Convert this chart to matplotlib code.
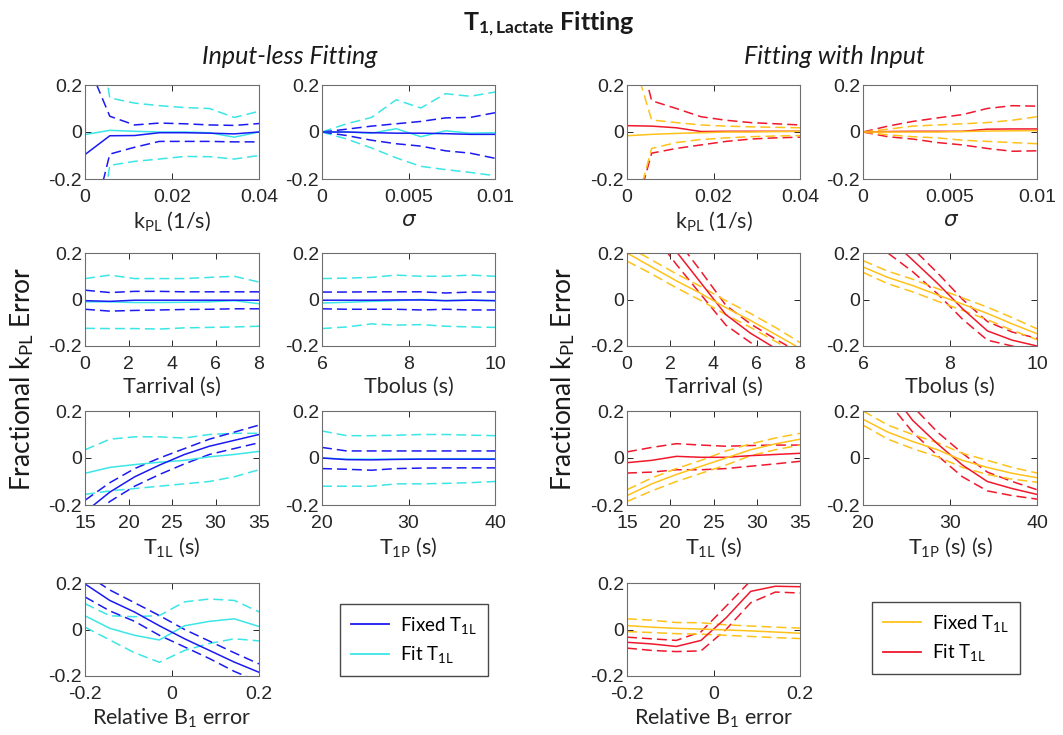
import matplotlib
matplotlib.use("Agg")
import matplotlib.pyplot as plt
from matplotlib.lines import Line2D

plt.rcParams['font.family'] = ['Lato', 'DejaVu Sans']
plt.rcParams['mathtext.fontset'] = 'custom'
plt.rcParams['mathtext.rm'] = 'Lato'
plt.rcParams['mathtext.it'] = 'Lato:italic'
plt.rcParams['mathtext.bf'] = 'Lato:bold'

# ---- x grids (8 simulated values per parameter) ----
kpl_x = [0, 0.0057, 0.0114, 0.0171, 0.0229, 0.0286, 0.0343, 0.04]
sig_x = [0, 0.00143, 0.00286, 0.00429, 0.00571, 0.00714, 0.00857, 0.01]
tarr_x = [0, 1.14, 2.29, 3.43, 4.57, 5.71, 6.86, 8]
tbol_x = [6, 6.57, 7.14, 7.71, 8.29, 8.86, 9.43, 10]
t1l_x = [15, 17.86, 20.71, 23.57, 26.43, 29.29, 32.14, 35]
t1p_x = [20, 22.86, 25.71, 28.57, 31.43, 34.29, 37.14, 40]
b1_x = [-0.2, -0.143, -0.086, -0.029, 0.029, 0.086, 0.143, 0.2]

# ---- input-less fitting: fixed T1L (mean, +std, -std), fit T1L ----
il_kpl_fix = [-0.096, -0.016, -0.015, -0.003, -0.003, -0.005, -0.008, 0.0]
il_kpl_fix_hi = [0.32, 0.067, 0.03, 0.038, 0.035, 0.03, 0.028, 0.036]
il_kpl_fix_lo = [-0.52, -0.094, -0.065, -0.04, -0.04, -0.04, -0.042, -0.042]
il_kpl_fit = [-0.011, 0.007, 0.003, 0.0, 0.0, -0.003, -0.022, 0.0]
il_kpl_fit_hi = [0.8, 0.145, 0.123, 0.112, 0.104, 0.1, 0.062, 0.088]
il_kpl_fit_lo = [-0.82, -0.142, -0.125, -0.115, -0.104, -0.105, -0.115, -0.1]

il_sig_fix = [0, 0, -0.003, -0.005, -0.005, -0.007, -0.01, -0.01]
il_sig_fix_hi = [0, 0.012, 0.025, 0.035, 0.045, 0.06, 0.062, 0.082]
il_sig_fix_lo = [0, -0.015, -0.035, -0.05, -0.06, -0.08, -0.09, -0.112]
il_sig_fit = [0, 0.0, -0.005, 0.014, -0.02, 0.005, -0.005, -0.003]
il_sig_fit_hi = [0, 0.035, 0.062, 0.137, 0.102, 0.163, 0.152, 0.17]
il_sig_fit_lo = [0, -0.03, -0.068, -0.11, -0.146, -0.16, -0.172, -0.186]

il_tarr_fix = [-0.005, -0.008, -0.003, -0.003, -0.003, -0.003, -0.003, -0.003]
il_tarr_fix_hi = [0.04, 0.03, 0.035, 0.035, 0.033, 0.033, 0.033, 0.033]
il_tarr_fix_lo = [-0.042, -0.05, -0.047, -0.045, -0.043, -0.042, -0.04, -0.04]
il_tarr_fit = [-0.01, -0.01, -0.013, -0.013, -0.012, -0.01, -0.005, -0.018]
il_tarr_fit_hi = [0.09, 0.105, 0.09, 0.09, 0.09, 0.095, 0.1, 0.075]
il_tarr_fit_lo = [-0.124, -0.125, -0.125, -0.127, -0.122, -0.12, -0.118, -0.115]

il_tbol_fix = [-0.003, -0.003, -0.003, -0.002, -0.002, -0.005, -0.003, -0.005]
il_tbol_fix_hi = [0.032, 0.032, 0.033, 0.033, 0.033, 0.028, 0.032, 0.032]
il_tbol_fix_lo = [-0.04, -0.042, -0.042, -0.042, -0.045, -0.042, -0.045, -0.045]
il_tbol_fit = [-0.015, -0.012, -0.008, -0.005, 0.0, -0.005, -0.003, -0.005]
il_tbol_fit_hi = [0.09, 0.092, 0.095, 0.105, 0.1, 0.1, 0.105, 0.1]
il_tbol_fit_lo = [-0.125, -0.118, -0.105, -0.11, -0.108, -0.115, -0.118, -0.12]

il_t1l_fix = [-0.23, -0.145, -0.08, -0.03, 0.015, 0.05, 0.075, 0.1]
il_t1l_fix_hi = [-0.18, -0.105, -0.045, 0.0, 0.04, 0.08, 0.11, 0.14]
il_t1l_fix_lo = [-0.27, -0.185, -0.12, -0.07, -0.025, 0.015, 0.04, 0.065]
il_t1l_fit = [-0.065, -0.04, -0.028, -0.018, -0.01, 0.005, 0.015, 0.028]
il_t1l_fit_hi = [0.035, 0.08, 0.09, 0.09, 0.085, 0.1, 0.105, 0.105]
il_t1l_fit_lo = [-0.155, -0.14, -0.13, -0.12, -0.11, -0.1, -0.08, -0.05]

il_t1p_fix = [0.0, -0.007, -0.008, -0.006, -0.005, -0.005, -0.005, -0.005]
il_t1p_fix_hi = [0.045, 0.03, 0.03, 0.03, 0.03, 0.03, 0.03, 0.03]
il_t1p_fix_lo = [-0.045, -0.048, -0.052, -0.045, -0.043, -0.042, -0.042, -0.042]
il_t1p_fit = [0.0, -0.005, -0.005, -0.005, -0.004, -0.003, -0.003, -0.003]
il_t1p_fit_hi = [0.115, 0.095, 0.095, 0.097, 0.1, 0.1, 0.097, 0.095]
il_t1p_fit_lo = [-0.12, -0.12, -0.12, -0.11, -0.11, -0.108, -0.105, -0.1]

il_b1_fix = [0.196, 0.125, 0.075, 0.016, -0.04, -0.09, -0.14, -0.184]
il_b1_fix_hi = [0.24, 0.17, 0.115, 0.06, 0.0, -0.05, -0.1, -0.148]
il_b1_fix_lo = [0.14, 0.08, 0.035, -0.025, -0.075, -0.125, -0.18, -0.225]
il_b1_fit = [0.059, 0.005, -0.025, -0.045, 0.016, 0.035, 0.046, 0.013]
il_b1_fit_hi = [0.111, 0.059, 0.055, 0.06, 0.119, 0.131, 0.125, 0.076]
il_b1_fit_lo = [0.01, -0.045, -0.1, -0.141, -0.09, -0.06, -0.04, -0.049]

# ---- fitting with input ----
wi_kpl_fix = [-0.016, -0.01, -0.006, -0.003, 0.0, 0.0, 0.002, 0.003]
wi_kpl_fix_hi = [0.4, 0.051, 0.04, 0.03, 0.025, 0.022, 0.02, 0.018]
wi_kpl_fix_lo = [-0.46, -0.07, -0.045, -0.032, -0.025, -0.02, -0.017, -0.015]
wi_kpl_fit = [0.027, 0.025, 0.018, 0.002, 0.003, 0.003, 0.003, 0.003]
wi_kpl_fit_hi = [0.55, 0.133, 0.1, 0.065, 0.05, 0.04, 0.035, 0.03]
wi_kpl_fit_lo = [-0.47, -0.09, -0.07, -0.055, -0.04, -0.03, -0.025, -0.022]

wi_sig_fix = [0, 0, 0, 0, 0.002, 0.004, 0.005, 0.006]
wi_sig_fix_hi = [0, 0.012, 0.025, 0.03, 0.035, 0.04, 0.05, 0.065]
wi_sig_fix_lo = [0, -0.012, -0.02, -0.025, -0.035, -0.04, -0.045, -0.05]
wi_sig_fit = [0, 0.002, 0.003, 0.003, 0.003, 0.012, 0.013, 0.013]
wi_sig_fit_hi = [0, 0.025, 0.045, 0.06, 0.074, 0.1, 0.112, 0.11]
wi_sig_fit_lo = [0, -0.02, -0.03, -0.045, -0.055, -0.07, -0.082, -0.08]

wi_tarr_fix = [0.2, 0.14, 0.08, 0.025, -0.035, -0.09, -0.15, -0.21]
wi_tarr_fix_hi = [0.23, 0.17, 0.11, 0.055, -0.005, -0.06, -0.12, -0.185]
wi_tarr_fix_lo = [0.165, 0.11, 0.05, -0.005, -0.065, -0.12, -0.18, -0.24]
wi_tarr_fit = [0.47, 0.34, 0.205, 0.07, -0.065, -0.145, -0.21, -0.27]
wi_tarr_fit_hi = [0.52, 0.39, 0.26, 0.12, -0.025, -0.105, -0.17, -0.23]
wi_tarr_fit_lo = [0.42, 0.29, 0.15, 0.02, -0.11, -0.185, -0.25, -0.31]

wi_tbol_fix = [0.14, 0.095, 0.06, 0.02, -0.02, -0.06, -0.105, -0.147]
wi_tbol_fix_hi = [0.167, 0.122, 0.087, 0.047, 0.007, -0.033, -0.078, -0.126]
wi_tbol_fix_lo = [0.117, 0.068, 0.033, -0.007, -0.047, -0.087, -0.132, -0.173]
wi_tbol_fit = [0.34, 0.27, 0.17, 0.07, -0.04, -0.135, -0.175, -0.2]
wi_tbol_fit_hi = [0.42, 0.34, 0.22, 0.115, 0.0, -0.095, -0.14, -0.167]
wi_tbol_fit_lo = [0.27, 0.2, 0.12, 0.025, -0.085, -0.175, -0.2, -0.23]

wi_t1l_fix = [-0.16, -0.11, -0.07, -0.035, 0.0, 0.035, 0.06, 0.08]
wi_t1l_fix_hi = [-0.135, -0.085, -0.045, -0.01, 0.03, 0.06, 0.085, 0.105]
wi_t1l_fix_lo = [-0.185, -0.14, -0.1, -0.065, -0.03, 0.01, 0.035, 0.055]
wi_t1l_fit = [-0.02, -0.01, 0.007, 0.003, 0.003, 0.01, 0.015, 0.02]
wi_t1l_fit_hi = [0.026, 0.045, 0.061, 0.055, 0.05, 0.053, 0.055, 0.055]
wi_t1l_fit_lo = [-0.064, -0.06, -0.05, -0.05, -0.045, -0.035, -0.025, -0.014]

wi_t1p_fix = [0.165, 0.11, 0.07, 0.035, -0.01, -0.04, -0.065, -0.084]
wi_t1p_fix_hi = [0.2, 0.14, 0.1, 0.065, 0.02, -0.01, -0.04, -0.064]
wi_t1p_fix_lo = [0.14, 0.08, 0.04, 0.005, -0.04, -0.07, -0.09, -0.103]
wi_t1p_fit = [0.45, 0.3, 0.16, 0.06, -0.03, -0.1, -0.13, -0.155]
wi_t1p_fit_hi = [0.5, 0.36, 0.22, 0.11, 0.02, -0.06, -0.1, -0.135]
wi_t1p_fit_lo = [0.4, 0.24, 0.11, 0.01, -0.08, -0.14, -0.16, -0.175]

wi_b1_fix = [0.017, 0.01, 0.005, 0.002, -0.002, -0.006, -0.011, -0.016]
wi_b1_fix_hi = [0.046, 0.04, 0.03, 0.029, 0.02, 0.015, 0.01, 0.006]
wi_b1_fix_lo = [-0.009, -0.013, -0.018, -0.02, -0.025, -0.03, -0.035, -0.039]
wi_b1_fit = [-0.055, -0.062, -0.073, -0.047, 0.05, 0.164, 0.186, 0.184]
wi_b1_fit_hi = [-0.033, -0.04, -0.047, -0.01, 0.1, 0.21, 0.22, 0.22]
wi_b1_fit_lo = [-0.08, -0.09, -0.095, -0.092, 0.0, 0.115, 0.161, 0.157]

BLUE, CYAN = '#1a1af2', '#3ce6e6'
GOLD, RED = '#ffc21a', '#f0182d'
W, H = 1063, 735
DASH = (0, (6.5, 3.3))


def rect(x0, x1, y0, y1):
    return [x0 / W, 1 - y1 / H, (x1 - x0) / W, (y1 - y0) / H]


def panel(fig, box, x, fix, fix_hi, fix_lo, fit, fit_hi, fit_lo,
          c_fix, c_fit, xlim, xticks, xticklabels, xlabel, **lkw):
    ax = fig.add_axes(rect(*box))
    for y, c, ls in [(fit_hi, c_fit, DASH), (fit_lo, c_fit, DASH),
                     (fix_hi, c_fix, DASH), (fix_lo, c_fix, DASH),
                     (fit, c_fit, '-'), (fix, c_fix, '-')]:
        ax.plot(x, y, color=c, ls=ls, lw=1.1)
    ax.set_xlim(xlim)
    ax.set_ylim(-0.2, 0.2)
    ax.set_xticks(xticks)
    ax.set_xticklabels(xticklabels)
    ax.set_yticks([-0.2, 0, 0.2])
    ax.set_yticklabels(['-0.2', '0', '0.2'])
    ax.tick_params(direction='in', length=4, width=0.7, top=True, right=True,
                   labelsize=14, colors='#262626')
    ax.tick_params(axis='x', pad=7)
    ax.tick_params(axis='y', pad=2)
    for lab in ax.get_xticklabels() + ax.get_yticklabels():
        lab.set_family('Liberation Sans')
    for s in ax.spines.values():
        s.set_color('#6e6e6e')
        s.set_linewidth(0.8)
    ax.set_xlabel(xlabel, fontsize=15.5, color='#262626', labelpad=3, **lkw)
    return ax


fig = plt.figure(figsize=(W / 100, H / 100), dpi=100)

rows = [(85, 179), (253, 346), (411, 505), (583, 676)]
left_cols = [(85, 259), (322, 495)]
right_cols = [(627, 800), (863, 1037)]

kpl_lab = r'k$_\mathrm{PL}$ (1/s)'
t1l_lab = r'T$_\mathrm{1L}$ (s)'
b1_lab = r'Relative B$_\mathrm{1}$ error'
ticks_kpl = ([0, 0.04], [0, 0.02, 0.04], ['0', '0.02', '0.04'])
ticks_sig = ([0, 0.01], [0, 0.005, 0.01], ['0', '0.005', '0.01'])
ticks_tarr = ([0, 8], [0, 2, 4, 6, 8], ['0', '2', '4', '6', '8'])
ticks_tbol = ([6, 10], [6, 8, 10], ['6', '8', '10'])
ticks_t1l = ([15, 35], [15, 20, 25, 30, 35], ['15', '20', '25', '30', '35'])
ticks_t1p = ([20, 40], [20, 30, 40], ['20', '30', '40'])
ticks_b1 = ([-0.2, 0.2], [-0.2, 0, 0.2], ['-0.2', '0', '0.2'])

for cols, pre, cf, cb in [(left_cols, 'il', BLUE, CYAN), (right_cols, 'wi', GOLD, RED)]:
    d = globals()
    specs = [
        ('kpl', kpl_x, 0, 0, ticks_kpl, kpl_lab, {}),
        ('sig', sig_x, 0, 1, ticks_sig, 'σ', {'fontstyle': 'italic', 'family': ['DejaVu Sans']}),
        ('tarr', tarr_x, 1, 0, ticks_tarr, 'Tarrival (s)', {}),
        ('tbol', tbol_x, 1, 1, ticks_tbol, 'Tbolus (s)', {}),
        ('t1l', t1l_x, 2, 0, ticks_t1l, t1l_lab, {}),
        ('t1p', t1p_x, 2, 1, ticks_t1p,
         r'T$_\mathrm{1P}$ (s)' if pre == 'il' else r'T$_\mathrm{1P}$ (s) (s)', {}),
        ('b1', b1_x, 3, 0, ticks_b1, b1_lab, {}),
    ]
    for name, x, r, c, tk, lab, lkw in specs:
        k = pre + '_' + name
        box = (cols[c][0], cols[c][1], rows[r][0], rows[r][1])
        panel(fig, box, x, d[k + '_fix'], d[k + '_fix_hi'], d[k + '_fix_lo'],
              d[k + '_fit'], d[k + '_fit_hi'], d[k + '_fit_lo'],
              cf, cb, tk[0], tk[1], tk[2], lab, **lkw)

# legends
for cx, cy, cf, cb in [(414, 640, BLUE, CYAN), (946, 638, GOLD, RED)]:
    handles = [Line2D([], [], color=cf, lw=1.3), Line2D([], [], color=cb, lw=1.3)]
    leg = fig.legend(handles, [r'Fixed T$_\mathrm{1L}$', r'Fit T$_\mathrm{1L}$'],
                     loc='center', bbox_to_anchor=(cx / W, 1 - cy / H),
                     fontsize=13.5, frameon=True, fancybox=False, handlelength=2.0,
                     handletextpad=0.6, borderpad=0.6, labelspacing=0.45)
    leg.get_frame().set_edgecolor('#1a1a1a')
    leg.get_frame().set_linewidth(1.0)

# titles and shared labels
fig.text(548 / W, 1 - 24 / H, r'T$_\mathbf{1,Lactate}$ Fitting', ha='center', va='center',
         fontsize=18, fontweight='bold', color='#1a1a1a')
fig.text(290 / W, 1 - 56 / H, 'Input-less Fitting', ha='center', va='center',
         fontsize=18, fontstyle='italic', color='#1a1a1a')
fig.text(834 / W, 1 - 56 / H, 'Fitting with Input', ha='center', va='center',
         fontsize=18, fontstyle='italic', color='#1a1a1a')
for x in [22, 563]:
    fig.text(x / W, 1 - 379 / H, r'Fractional k$_\mathrm{PL}$ Error', ha='center', va='center',
             rotation=90, fontsize=19, color='#1a1a1a')

fig.savefig('out.png', dpi=100)
